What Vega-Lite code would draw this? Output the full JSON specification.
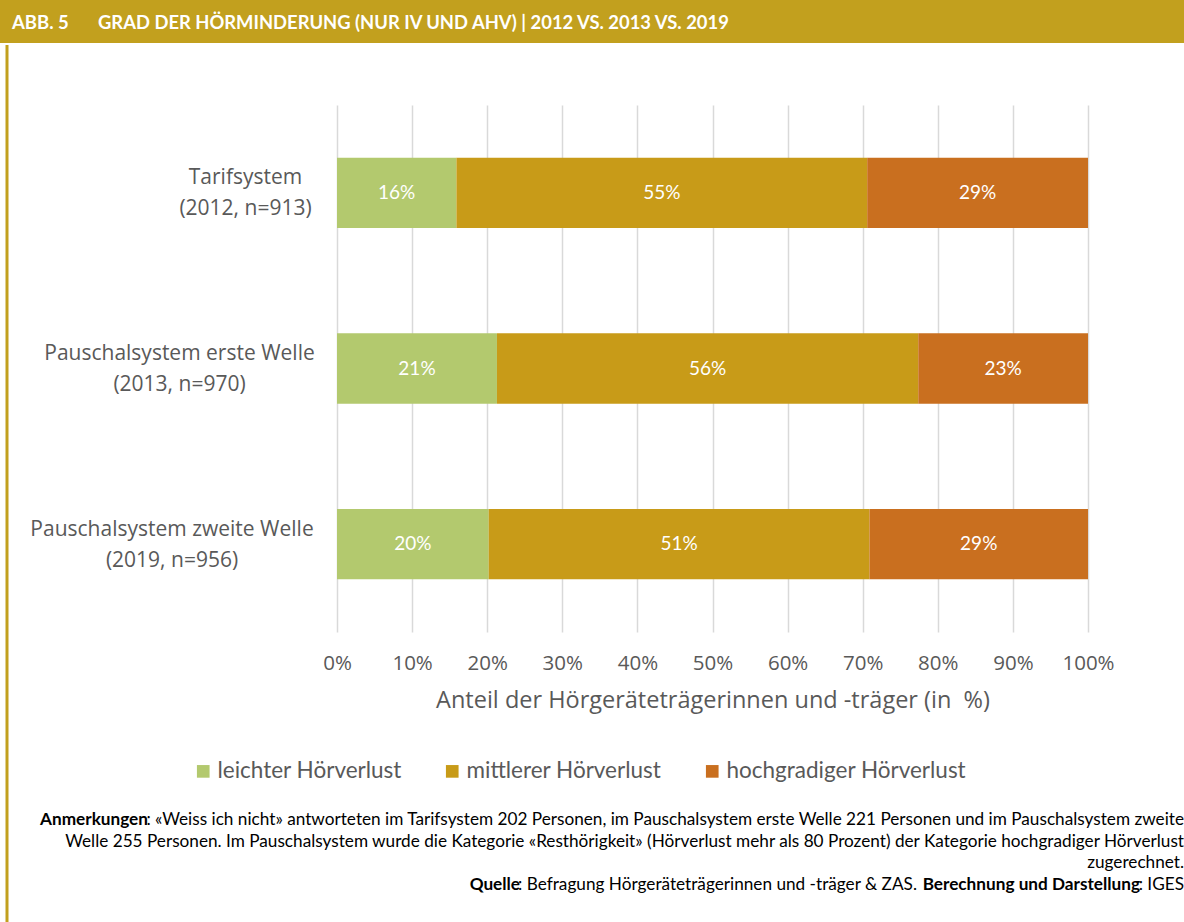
{
  "$schema": "https://vega.github.io/schema/vega-lite/v6.json",
  "padding": 0,
  "background": "white",
  "spacing": 0,
  "config": {
    "view": {"stroke": null},
    "concat": {"spacing": 0}
  },
  "vconcat": [
    {
      "width": 1184,
      "height": 43,
      "view": {"fill": "#C2A01E", "stroke": null},
      "layer": [
        {
          "data": {"values": [{"t": "ABB. 5"}]},
          "mark": {"type": "text", "align": "left", "baseline": "middle", "dx": 12, "dy": 1, "font": "Lato", "fontSize": 18.5, "fontWeight": "bold", "color": "white"},
          "encoding": {
            "x": {"datum": 0, "type": "quantitative", "scale": {"domain": [0, 1]}, "axis": null},
            "text": {"field": "t"}
          }
        },
        {
          "data": {"values": [{"t": "GRAD DER HÖRMINDERUNG (NUR IV UND AHV) | 2012 VS. 2013 VS. 2019"}]},
          "mark": {"type": "text", "align": "left", "baseline": "middle", "dx": 98, "dy": 1, "font": "Lato", "fontSize": 18.4, "fontWeight": "bold", "color": "white"},
          "encoding": {
            "x": {"datum": 0, "type": "quantitative", "scale": {"domain": [0, 1]}, "axis": null},
            "text": {"field": "t"}
          }
        }
      ]
    },
    {
      "hconcat": [
        {
          "width": 14,
          "height": 879,
          "data": {"values": [{}]},
          "mark": {"type": "rule", "color": "#C2A01E", "strokeWidth": 3},
          "encoding": {
            "x": {"datum": 0.5, "type": "quantitative", "scale": {"domain": [0, 1]}, "axis": null}
          }
        },
        {
          "spacing": 10,
          "vconcat": [
            {
              "width": 1,
              "height": 50,
              "data": {"values": []},
              "mark": "rect",
              "encoding": {}
            },
            {
              "width": 751,
              "height": 527,
              "data": {
                "values": [
                  {"system": "Tarifsystem|(2012, n=913)", "level": "leichter Hörverlust", "k": 1, "share": 0.159},
                  {"system": "Tarifsystem|(2012, n=913)", "level": "mittlerer Hörverlust", "k": 2, "share": 0.547},
                  {"system": "Tarifsystem|(2012, n=913)", "level": "hochgradiger Hörverlust", "k": 3, "share": 0.294},
                  {"system": "Pauschalsystem erste Welle|(2013, n=970)", "level": "leichter Hörverlust", "k": 1, "share": 0.213},
                  {"system": "Pauschalsystem erste Welle|(2013, n=970)", "level": "mittlerer Hörverlust", "k": 2, "share": 0.561},
                  {"system": "Pauschalsystem erste Welle|(2013, n=970)", "level": "hochgradiger Hörverlust", "k": 3, "share": 0.226},
                  {"system": "Pauschalsystem zweite Welle|(2019, n=956)", "level": "leichter Hörverlust", "k": 1, "share": 0.202},
                  {"system": "Pauschalsystem zweite Welle|(2019, n=956)", "level": "mittlerer Hörverlust", "k": 2, "share": 0.507},
                  {"system": "Pauschalsystem zweite Welle|(2019, n=956)", "level": "hochgradiger Hörverlust", "k": 3, "share": 0.291}
                ]
              },
              "transform": [
                {"stack": "share", "groupby": ["system"], "sort": [{"field": "k"}], "as": ["x0", "x1"]},
                {"calculate": "(datum.x0 + datum.x1) / 2", "as": "xm"}
              ],
              "encoding": {
                "y": {
                  "field": "system",
                  "type": "nominal",
                  "sort": null,
                  "title": null,
                  "scale": {"paddingInner": 0.6, "paddingOuter": 0.3},
                  "axis": {
                    "domain": false,
                    "ticks": false,
                    "tickSize": 0,
                    "labelExpr": "split(datum.label, '|')",
                    "labelAlign": "center",
                    "labelBaseline": "middle",
                    "labelOffset": -14.5,
                    "labelPadding": {
                      "condition": [
                        {"test": "indexof(datum.value, 'Tarif') >= 0", "value": 92},
                        {"test": "indexof(datum.value, 'erste') >= 0", "value": 158}
                      ],
                      "value": 165.5
                    },
                    "labelFont": "Open Sans",
                    "labelFontSize": 21,
                    "labelLineHeight": 31,
                    "labelColor": "#595959",
                    "labelLimit": 400,
                    "minExtent": 323,
                    "maxExtent": 323
                  }
                }
              },
              "layer": [
                {
                  "mark": {"type": "bar"},
                  "encoding": {
                    "x": {
                      "field": "x0",
                      "type": "quantitative",
                      "scale": {"domain": [0, 1], "nice": false},
                      "title": "Anteil der Hörgeräteträgerinnen und -träger (in\u00a0 %)",
                      "axis": {
                        "values": [0, 0.1, 0.2, 0.3, 0.4, 0.5, 0.6, 0.7, 0.8, 0.9, 1],
                        "format": ".0%",
                        "domain": false,
                        "ticks": false,
                        "tickSize": 0,
                        "grid": true,
                        "gridColor": "#D9D9D9",
                        "gridWidth": 1.5,
                        "labelFlush": false,
                        "labelOverlap": false,
                        "labelPadding": 21,
                        "labelFont": "Open Sans",
                        "labelFontSize": 20.5,
                        "labelColor": "#595959",
                        "titleFont": "Open Sans",
                        "titleFontSize": 23.5,
                        "titleFontWeight": "normal",
                        "titleColor": "#595959",
                        "titlePadding": 14.5
                      }
                    },
                    "x2": {"field": "x1"},
                    "color": {
                      "field": "level",
                      "type": "nominal",
                      "scale": {
                        "domain": ["leichter Hörverlust", "mittlerer Hörverlust", "hochgradiger Hörverlust"],
                        "range": ["#B3C96E", "#C89B18", "#C96F1F"]
                      },
                      "legend": {
                        "title": null,
                        "orient": "none",
                        "direction": "horizontal",
                        "legendX": 192,
                        "legendY": 760,
                        "padding": 0,
                        "symbolType": "square",
                        "symbolSize": 160,
                        "symbolStrokeWidth": 0,
                        "labelFont": "Lato",
                        "labelFontSize": 22.5,
                        "labelColor": "#595959",
                        "labelOffset": 3,
                        "columnPadding": 39,
                        "labelLimit": 400
                      }
                    }
                  }
                },
                {
                  "mark": {"type": "text", "color": "white", "font": "Lato", "fontSize": 19, "baseline": "middle", "align": "center"},
                  "encoding": {
                    "x": {"field": "xm", "type": "quantitative"},
                    "text": {"field": "share", "type": "quantitative", "format": ".0%"}
                  }
                }
              ]
            },
            {
              "width": 1,
              "height": 77,
              "data": {"values": []},
              "mark": "rect",
              "encoding": {}
            },
            {
              "width": 847,
              "height": 87,
              "encoding": {
                "x": {"datum": 1, "type": "quantitative", "scale": {"domain": [0, 1]}, "axis": null},
                "y": {"field": "line", "type": "ordinal", "axis": null, "scale": {"domain": [1, 2, 3, 4], "paddingInner": 0, "paddingOuter": 0}},
                "text": {"field": "text"}
              },
              "layer": [
                {
                  "data": {
                    "values": [
                      {"line": 1, "text": ": «Weiss ich nicht» antworteten im Tarifsystem 202 Personen, im Pauschalsystem erste Welle 221 Personen und im Pauschalsystem zweite"},
                      {"line": 2, "text": "Welle 255 Personen. Im Pauschalsystem wurde die Kategorie «Resthörigkeit» (Hörverlust mehr als 80 Prozent) der Kategorie hochgradiger Hörverlust"},
                      {"line": 3, "text": "zugerechnet."},
                      {"line": 4, "text": ": IGES"}
                    ]
                  },
                  "mark": {"type": "text", "align": "right", "baseline": "middle", "font": "Lato", "fontSize": 17.2, "color": "#000000"}
                },
                {
                  "data": {"values": [{"line": 1, "text": "Anmerkungen"}]},
                  "mark": {"type": "text", "align": "right", "baseline": "middle", "dx": -1036, "font": "Lato", "fontSize": 17.2, "fontWeight": "bold", "color": "#000000"}
                },
                {
                  "data": {"values": [{"line": 4, "text": "Berechnung und Darstellung"}]},
                  "mark": {"type": "text", "align": "right", "baseline": "middle", "dx": -44, "font": "Lato", "fontSize": 17.2, "fontWeight": "bold", "color": "#000000"}
                },
                {
                  "data": {"values": [{"line": 4, "text": ": Befragung Hörgeräteträgerinnen und -träger & ZAS."}]},
                  "mark": {"type": "text", "align": "right", "baseline": "middle", "dx": -267, "font": "Lato", "fontSize": 17.2, "color": "#000000"}
                },
                {
                  "data": {"values": [{"line": 4, "text": "Quelle"}]},
                  "mark": {"type": "text", "align": "right", "baseline": "middle", "dx": -664, "font": "Lato", "fontSize": 17.2, "fontWeight": "bold", "color": "#000000"}
                }
              ]
            }
          ]
        }
      ]
    }
  ]
}
